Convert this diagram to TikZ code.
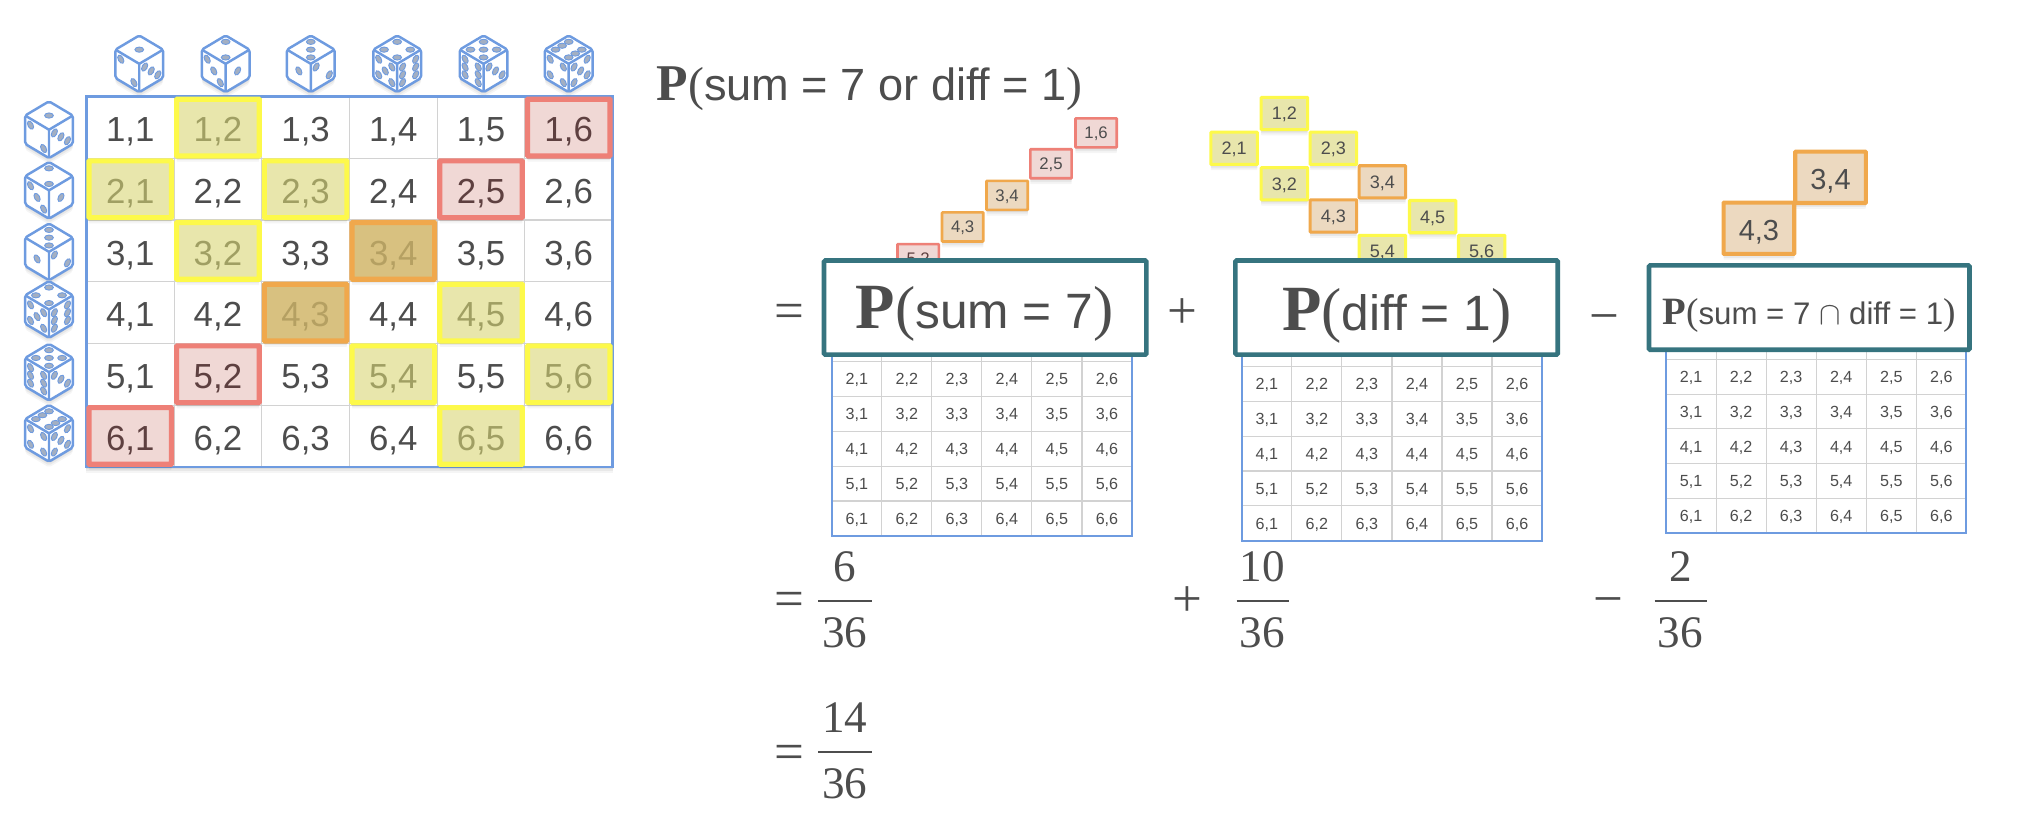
\documentclass[tikz,border=0pt]{standalone}
\usepackage{fontspec}
\setmainfont{Liberation Serif}
\setsansfont{Liberation Sans}
\definecolor{ink}{HTML}{4D4D4D}
\definecolor{diceblue}{HTML}{6E9BE0}
\definecolor{pipfill}{HTML}{A3AFC2}
\definecolor{gridgray}{HTML}{D2D2D2}
\definecolor{teal}{HTML}{36747F}
\definecolor{yb}{HTML}{FDF94A}
\definecolor{yf}{HTML}{E8E6AC}
\definecolor{yt}{HTML}{A09F63}
\definecolor{rb}{HTML}{EE8077}
\definecolor{rf}{HTML}{F0D8D5}
\definecolor{rt}{HTML}{5E4040}
\definecolor{ob}{HTML}{F0A84C}
\definecolor{of}{HTML}{D8C180}
\definecolor{ot}{HTML}{B5A062}
\definecolor{og}{HTML}{ECD9C0}
\newcommand{\fs}[1]{\fontsize{#1}{#1}\selectfont}
\tikzset{
  softshadow/.style={
    preaction={draw=none,fill=black,fill opacity=.05,transform canvas={yshift=-1.5pt}},
    preaction={draw=none,fill=black,fill opacity=.05,transform canvas={yshift=-3pt}},
    preaction={draw=none,fill=black,fill opacity=.04,transform canvas={yshift=-4.5pt}}},
  pipstyle/.style={fill=pipfill,draw=diceblue,line width=.7pt},
  die/.style={draw=diceblue,line width=1.9pt,fill=white,rounded corners=1.5pt,line join=round},
  cellbig/.style={inner sep=0pt,text=ink,font=\fs{27}\sffamily,text height=19.3pt,text depth=0pt},
  cellsmall/.style={inner sep=0pt,text=ink,font=\fs{12.5}\sffamily,text height=9pt,text depth=0pt},
  hl/.style={rectangle,inner sep=0pt,rounded corners=.5pt,softshadow},
  big/.style={hl,minimum width=64pt,minimum height=44pt,line width=4pt,font=\fs{27}\sffamily,text height=19.3pt,text depth=0pt},
  st1/.style={hl,minimum width=32pt,minimum height=22.5pt,line width=2pt,font=\fs{13}\sffamily,text=ink,text height=9.3pt,text depth=0pt},
  st2/.style={hl,minimum width=36pt,minimum height=25pt,line width=2.4pt,font=\fs{14}\sffamily,text=ink,text height=10pt,text depth=0pt},
  st3/.style={hl,minimum width=54.8pt,minimum height=39.8pt,line width=3.2pt,font=\fs{22.5}\sffamily,text=ink,text height=16pt,text depth=0pt},
  Y/.style={draw=yb,fill=yf,text=yt},
  R/.style={draw=rb,fill=rf,text=rt},
  O/.style={draw=ob,fill=of,text=ot},
  termbox/.style={rectangle,draw=teal,fill=white,line width=3.6pt,rounded corners=1pt,inner sep=0pt},
  eqtext/.style={inner sep=0pt,text=ink,anchor=base west},
  opsym/.style={inner sep=0pt,text=ink,anchor=base,font=\fs{41}\rmfamily},
  numtext/.style={inner sep=0pt,text=ink,anchor=base,font=\fs{35}\rmfamily},
  fracbar/.style={draw=ink,line width=2pt},
}
\newcommand{\pips}[1]{%
  \ifcase#1\or\def\plist{0/0}%
  \or\def\plist{-.55/-.55,.55/.55}%
  \or\def\plist{-.55/-.55,0/0,.55/.55}%
  \or\def\plist{-.55/-.55,.55/.55,-.55/.55,.55/-.55}%
  \or\def\plist{-.55/-.55,.55/.55,-.55/.55,.55/-.55,0/0}%
  \or\def\plist{-.55/-.55,.55/.55,-.55/.55,.55/-.55,-.55/0,.55/0}%
  \fi
  \foreach \pu/\pv in \plist {\path[pipstyle] (\pu,\pv) circle[radius=.26];}}
\newcommand{\dicefig}[5]{%
  \begin{scope}[shift={(#1,#2)}]
    \path[die,softshadow] (0,-22) -- (18.5,-11) -- (18.5,11) -- (0,22) -- (-18.5,11) -- (-18.5,-11) -- cycle;
    \draw[diceblue,line width=1.9pt,line join=round] (-18.5,-11) -- (0,0) -- (18.5,-11) (0,0) -- (0,22);
    \begin{scope}[shift={(0,-11)},x={(9.25pt,-5.5pt)},y={(-9.25pt,-5.5pt)}]\pips{#3}\end{scope}
    \begin{scope}[shift={(-9.25,5.5)},x={(9.25pt,-5.5pt)},y={(0pt,-11pt)}]\pips{#4}\end{scope}
    \begin{scope}[shift={(9.25,5.5)},x={(9.25pt,5.5pt)},y={(0pt,-11pt)}]\pips{#5}\end{scope}
  \end{scope}}
% table below a term box: name, left, top of row 2, column, row
\newcommand{\lowertable}[5]{%
  \path[fill=white] (#2,#3-10) rectangle ({#2+6*#4},{#3+5*#5});
  \foreach \r in {1,...,4} \draw[gridgray,line width=.9pt] (#2,{#3+\r*#5}) -- ({#2+6*#4},{#3+\r*#5});
  \draw[gridgray,line width=.9pt] (#2,#3) -- ({#2+6*#4},#3);
  \foreach \c in {1,...,5} \draw[gridgray,line width=.9pt] ({#2+\c*#4},#3-10) -- ({#2+\c*#4},{#3+5*#5});
  \draw[diceblue,line width=1.6pt] (#2,#3-10) -- (#2,{#3+5*#5}) -- ({#2+6*#4},{#3+5*#5}) -- ({#2+6*#4},#3-10);
  \foreach \r in {2,...,6} \foreach \c in {1,...,6}
    \node[cellsmall] (#1-\r-\c) at ({#2+(\c-.5)*#4},{#3+(\r-1.5)*#5}) {\r,\c};}
\newcommand{\pterm}[3]{{\fs{#1}\rmfamily\bfseries P}{\fs{#2}\rmfamily(}\fs{#3}\sffamily}
\begin{document}
\begin{tikzpicture}[x=1pt,y=-1pt]
\useasboundingbox (0,0) rectangle (1568,639);
\fill[white] (0,0) rectangle (1568,639);
% dice
\foreach \n/\xx/\t/\l/\rr in {1/108/1/2/3,2/175/2/3/1,3/241/3/1/2,4/308/4/5/6,5/375/5/6/3,6/441/6/4/5}
  \dicefig{\xx}{49.5}{\t}{\l}{\rr};
\foreach \n/\yy/\t/\l/\rr in {1/100.6/1/2/3,2/147.6/2/3/1,3/195.3/3/1/2,4/240/4/5/6,5/288.6/5/6/3,6/336/6/4/5}
  \dicefig{38}{\yy}{\t}{\l}{\rr};
% main table
\path[softshadow,fill=white] (67,75) rectangle (475,362);
\foreach \r in {1,...,5} \draw[gridgray,line width=.9pt] (67,{75+\r*47.83}) -- (475,{75+\r*47.83});
\foreach \c in {1,...,5} \draw[gridgray,line width=.9pt] ({67+\c*68},75) -- ({67+\c*68},362);
\draw[diceblue,line width=2pt] (67,75) rectangle (475,362);
\foreach \r in {1,...,6} \foreach \c in {1,...,6}
  \node[cellbig] (m-\r-\c) at ({67+(\c-.5)*68},{76.5+(\r-.5)*47.83}) {\r,\c};
\foreach \r/\c/\k in {1/2/Y,2/1/Y,2/3/Y,3/2/Y,4/5/Y,5/4/Y,5/6/Y,6/5/Y,1/6/R,2/5/R,5/2/R,6/1/R,3/4/O,4/3/O}
  \node[big,\k] (h-\r-\c) at ({67+(\c-.5)*68},{75+(\r-.5)*47.83}) {\raisebox{-1.5pt}{\r,\c}};
% heading
\node[eqtext] (head) at (509,77.6) {\pterm{40}{37}{35}sum = 7 or diff = 1{\fs{37}\rmfamily)}};
% stair 1
\node[st1,R] (a52) at (712,200.5) {5,2};
\node[st1,draw=ob,fill=og] (a43) at (746.5,176) {4,3};
\node[st1,draw=ob,fill=og] (a34) at (781,151.5) {3,4};
\node[st1,R,text=ink] (a25) at (815,127) {2,5};
\node[st1,R,text=ink] (a16) at (850,103) {1,6};
% stair 2
\node[st2,Y,text=ink] (b12) at (996,88) {1,2};
\node[st2,Y,text=ink] (b21) at (957,115) {2,1};
\node[st2,Y,text=ink] (b23) at (1034,115) {2,3};
\node[st2,Y,text=ink] (b32) at (996,142.5) {3,2};
\node[st2,draw=ob,fill=og] (b34) at (1072,141) {3,4};
\node[st2,draw=ob,fill=og] (b43) at (1034,167.5) {4,3};
\node[st2,Y,text=ink] (b45) at (1111,168) {4,5};
\node[st2,Y,text=ink] (b54) at (1072,195) {5,4};
\node[st2,Y,text=ink] (b56) at (1149,195) {5,6};
% stair 3
\node[st3,draw=ob,fill=og] (c34) at (1419.5,137.5) {\raisebox{-1.5pt}{3,4}};
\node[st3,draw=ob,fill=og] (c43) at (1364,177) {\raisebox{-1.5pt}{4,3}};
% lower tables
\lowertable{ta}{645}{280.5}{38.8}{27}
\lowertable{tb}{963}{284.3}{38.8}{27}
\lowertable{tc}{1292}{278.8}{38.8}{26.9}
% term boxes
\node[termbox,minimum width=250pt,minimum height=73pt] (boxa) at (764,238.5) {};
\node[termbox,minimum width=250pt,minimum height=73pt] (boxb) at (1083,238.5) {};
\node[termbox,minimum width=248.5pt,minimum height=65.5pt] (boxc) at (1403,238.5) {};
\node[eqtext] (terma) at (663.4,254.6) {\pterm{50}{47}{38.5}sum = 7{\fs{47}\rmfamily)}};
\node[eqtext] (termb) at (994,256) {\pterm{50}{47}{38.5}diff = 1{\fs{47}\rmfamily)}};
\node[eqtext] (termc) at (1289,252) {\pterm{30}{29}{24.2}sum = 7 \(\cap\) diff = 1{\fs{29}\rmfamily)}};
% operators
\node[opsym] (eq1) at (612,254.5) {=};
\node[opsym] (plus1) at (917,254.5) {+};
\node[opsym] (minus1) at (1244,259) {\char"2212};
\node[opsym] (eq2) at (612,478) {=};
\node[opsym] (plus2) at (921,478) {+};
\node[opsym] (minus2) at (1247,478) {\char"2212};
\node[opsym] (eq3) at (612,597) {=};
% fractions
\node[numtext] (n1) at (655,451) {6};
\draw[fracbar] (634.5,466) -- (676,466);
\node[numtext] (d1) at (655,502) {36};
\node[numtext] (n2) at (979,451) {10};
\draw[fracbar] (959,466) -- (999.5,466);
\node[numtext] (d2) at (979,502) {36};
\node[numtext] (n3) at (1303,451) {2};
\draw[fracbar] (1283,466) -- (1323.5,466);
\node[numtext] (d3) at (1303,502) {36};
\node[numtext] (n4) at (655,568) {14};
\draw[fracbar] (634.5,583) -- (676,583);
\node[numtext] (d4) at (655,619.5) {36};
\end{tikzpicture}
\end{document}
